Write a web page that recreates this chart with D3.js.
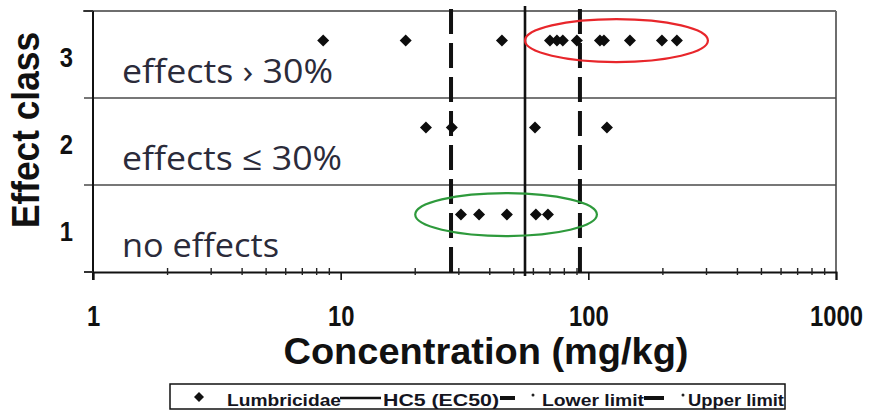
<!DOCTYPE html>
<html>
<head>
<meta charset="utf-8">
<script src="https://cdn.jsdelivr.net/npm/d3@7"></script>
<style>
  html, body { margin: 0; padding: 0; background: #fff; }
  svg { display: block; }
</style>
</head>
<body>
<svg id="chart" width="876" height="411"></svg>
<script>
// Effect classes on the y axis and their descriptions
const effectClasses = [3, 2, 1];
const classLabels = ["effects \u203A 30%", "effects \u2264 30%", "no effects"];

// Lumbricidae observations (mg/kg) per effect class
const class3Values = [8.5, 18.3, 44.8, 70.0, 74.7, 78.9, 89.9, 111.4, 115.6, 147.2, 198.2, 227.8];
const class2Values = [22.1, 28.1, 60.9, 118.9];
const class1Values = [30.6, 36.2, 46.9, 61.4, 68.7];

// Reference concentrations (mg/kg)
const hc5Value = 55.5;
const lowerLimit = 27.9;
const upperLimit = 92.5;

// Axis ticks
const xTickValues = [1, 10, 100, 1000];
const xTickLabels = ["1", "10", "100", "1000"];

// Highlighted groups: concentration range and class
const highlightRanges = [
  { lo: 55.5, hi: 304, cls: 3, color: "#e8262b" },
  { lo: 20.0, hi: 108.3, cls: 1, color: "#2e9a3c" }
];

const legendItems = ["Lumbricidae", "HC5 (EC50)", "Lower limit", "Upper limit"];

// ---------------------------------------------------------------
const svg = d3.select("#chart");
const plot = { left: 93, right: 836, top: 11, bottom: 272 };
const pointOffset = 0.16;   // markers sit slightly above the class centre
const boldFont = "'Liberation Sans', Arial, sans-serif";

// narrow a text element horizontally by a factor of its natural width
function squeeze(sel, factor) {
  sel.each(function () {
    const w = this.getComputedTextLength();
    d3.select(this).attr("textLength", w * factor).attr("lengthAdjust", "spacingAndGlyphs");
  });
}

const x = d3.scaleLog().domain([1, 1000]).range([plot.left, plot.right]);
const y = d3.scaleLinear().domain([0.5, 3.5]).range([plot.bottom, plot.top]);

const points = [
  ...class3Values.map(v => ({ v, c: 3 })),
  ...class2Values.map(v => ({ v, c: 2 })),
  ...class1Values.map(v => ({ v, c: 1 }))
];

// frame: top and right borders
svg.append("line").attr("x1", plot.left - 10).attr("x2", plot.right)
  .attr("y1", y(3.5)).attr("y2", y(3.5)).attr("stroke", "#6e6e6e").attr("stroke-width", 2);
svg.append("line").attr("x1", plot.right).attr("x2", plot.right)
  .attr("y1", y(3.5)).attr("y2", plot.bottom).attr("stroke", "#6e6e6e").attr("stroke-width", 2);

// class separators
svg.selectAll("line.sep").data([2.5, 1.5]).join("line").attr("class", "sep")
  .attr("x1", plot.left - 9).attr("x2", plot.right)
  .attr("y1", d => y(d)).attr("y2", d => y(d))
  .attr("stroke", "#4a4a4a").attr("stroke-width", 1.6);

// class descriptions
svg.selectAll("text.cls").data(effectClasses).join("text").attr("class", "cls")
  .attr("x", 122).attr("y", d => y(d) + 28)
  .attr("font-family", "'Open Sans', sans-serif").attr("font-size", 33)
  .attr("fill", "#2b2b3a")
  .attr("textLength", (d, i) => [211, 220, 157][i]).attr("lengthAdjust", "spacingAndGlyphs")
  .text((d, i) => classLabels[i]);

// y axis line + tick marks at class boundaries
svg.append("line").attr("x1", plot.left).attr("x2", plot.left)
  .attr("y1", plot.top).attr("y2", plot.bottom + 8).attr("stroke", "#111").attr("stroke-width", 2);
svg.selectAll("line.ytick").data([0.5, 3.5]).join("line").attr("class", "ytick")
  .attr("x1", plot.left - 9).attr("x2", plot.left)
  .attr("y1", d => y(d)).attr("y2", d => y(d)).attr("stroke", "#333").attr("stroke-width", 2);

svg.selectAll("text.ylab").data(effectClasses).join("text").attr("class", "ylab")
  .attr("x", 73).attr("y", d => y(d) + 12).attr("text-anchor", "end")
  .attr("font-family", boldFont).attr("font-weight", "bold")
  .attr("font-size", 28).attr("fill", "#111").text(d => d)
  .call(squeeze, 0.85);

svg.append("text")
  .attr("transform", `translate(39,${(33 + 227) / 2}) rotate(-90)`)
  .attr("text-anchor", "middle")
  .attr("font-family", boldFont).attr("font-weight", "bold")
  .attr("font-size", 38).attr("fill", "#111")
  .attr("textLength", 196).attr("lengthAdjust", "spacingAndGlyphs")
  .text("Effect class");

// x axis (log): major ticks below, minor ticks crossing the line
const xAxis = d3.axisBottom(x).tickValues(xTickValues)
  .tickFormat((d, i) => xTickLabels[i]).tickSize(8).tickPadding(20);
const gx = svg.append("g").attr("transform", `translate(0,${plot.bottom})`).call(xAxis);
gx.select(".domain").attr("stroke", "#111").attr("stroke-width", 2);
gx.selectAll(".tick line").attr("stroke", "#111").attr("stroke-width", 1.6);
gx.selectAll(".tick text")
  .attr("font-family", boldFont).attr("font-weight", "bold")
  .attr("font-size", 29).attr("fill", "#111").attr("dy", "0.88em")
  .call(squeeze, 0.82);

const minorTicks = x.ticks().filter(t => !xTickValues.includes(t));
svg.selectAll("line.minor").data(minorTicks).join("line").attr("class", "minor")
  .attr("x1", d => x(d)).attr("x2", d => x(d))
  .attr("y1", plot.bottom - 4).attr("y2", plot.bottom + 3)
  .attr("stroke", "#222").attr("stroke-width", 1.4);

svg.append("text")
  .attr("x", 486).attr("y", 364).attr("text-anchor", "middle")
  .attr("font-family", boldFont).attr("font-weight", "bold")
  .attr("font-size", 36).attr("fill", "#111")
  .attr("textLength", 405).attr("lengthAdjust", "spacingAndGlyphs")
  .text("Concentration (mg/kg)");

// reference lines
svg.selectAll("line.limit").data([lowerLimit, upperLimit]).join("line").attr("class", "limit")
  .attr("x1", d => x(d)).attr("x2", d => x(d))
  .attr("y1", plot.top - 2).attr("y2", plot.bottom + 2)
  .attr("stroke", "#111").attr("stroke-width", 4).attr("stroke-dasharray", "25,9");
svg.append("line").attr("x1", x(hc5Value)).attr("x2", x(hc5Value))
  .attr("y1", plot.top - 5).attr("y2", plot.bottom + 4)
  .attr("stroke", "#111").attr("stroke-width", 2.6);

// highlight ellipses
svg.selectAll("ellipse").data(highlightRanges).join("ellipse")
  .attr("cx", d => (x(d.lo) + x(d.hi)) / 2)
  .attr("cy", d => y(d.cls + pointOffset))
  .attr("rx", d => (x(d.hi) - x(d.lo)) / 2)
  .attr("ry", 21.5)
  .attr("fill", "none").attr("stroke", d => d.color).attr("stroke-width", 2.2);

// diamond markers
const diamond = r => `M0,${-r}L${r},0L0,${r}L${-r},0Z`;
svg.selectAll("path.pt").data(points).join("path").attr("class", "pt")
  .attr("transform", d => `translate(${x(d.v)},${y(d.c + pointOffset)})`)
  .attr("d", diamond(6)).attr("fill", "#0d0d0d");

// legend
const lg = svg.append("g");
lg.append("rect").attr("x", 170).attr("y", 384).attr("width", 615).attr("height", 25)
  .attr("fill", "#fff").attr("stroke", "#111").attr("stroke-width", 1.5);
lg.append("path").attr("transform", "translate(199,397)").attr("d", diamond(5)).attr("fill", "#111");
const legendText = [
  { x: 227, w: 114 }, { x: 383, w: 116 }, { x: 542, w: 102 }, { x: 688, w: 96 }
];
lg.selectAll("text").data(legendItems).join("text")
  .attr("x", (d, i) => legendText[i].x).attr("y", 406)
  .attr("font-family", boldFont).attr("font-weight", "bold")
  .attr("font-size", 17).attr("fill", "#141420")
  .attr("textLength", (d, i) => legendText[i].w).attr("lengthAdjust", "spacingAndGlyphs")
  .text(d => d);
const legendLines = [
  { x1: 340, x2: 381, w: 2.6 }, { x1: 500, x2: 515, w: 4 }, { x1: 644, x2: 664, w: 4 }
];
lg.selectAll("line").data(legendLines).join("line")
  .attr("x1", d => d.x1).attr("x2", d => d.x2).attr("y1", 398).attr("y2", 398)
  .attr("stroke", "#111").attr("stroke-width", d => d.w);
lg.selectAll("circle").data([533, 683]).join("circle")
  .attr("cx", d => d).attr("cy", 395).attr("r", 1.5).attr("fill", "#222");
</script>
</body>
</html>
